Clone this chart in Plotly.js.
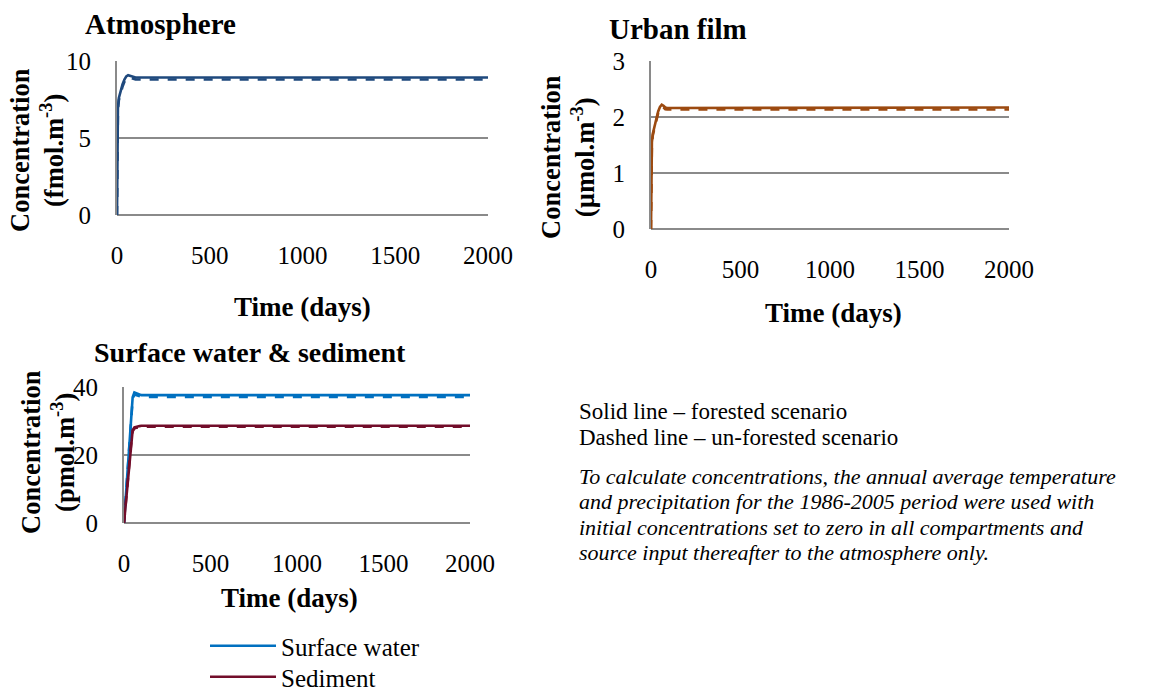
<!DOCTYPE html>
<html>
<head>
<meta charset="utf-8">
<script src="https://cdn.plot.ly/plotly-3.0.1.min.js"></script>
<style>html,body{margin:0;padding:0;background:#fff;}#chart{width:1170px;height:700px;}</style>
</head>
<body>
<div id="chart"></div>
<script>
// ---- data ----
const timeDays = [0, 2, 5, 10, 20, 30, 40, 50, 60, 70, 80, 90, 100, 120, 150, 200, 300, 500, 1000, 1500, 2000];

const atmForested   = [0, 6.2, 7.0, 7.6, 8.1, 8.5, 8.8, 9.0, 9.08, 9.05, 9.0, 8.95, 8.93, 8.93, 8.93, 8.93, 8.93, 8.93, 8.93, 8.93, 8.93];
const atmUnforested = [0, 6.0, 6.85, 7.45, 7.95, 8.35, 8.65, 8.85, 8.95, 8.9, 8.85, 8.8, 8.8, 8.8, 8.8, 8.8, 8.8, 8.8, 8.8, 8.8, 8.8];

const filmForested   = [0, 1.35, 1.55, 1.7, 1.85, 1.98, 2.1, 2.18, 2.22, 2.2, 2.17, 2.16, 2.16, 2.17, 2.17, 2.17, 2.17, 2.17, 2.17, 2.17, 2.17];
const filmUnforested = [0, 1.32, 1.52, 1.67, 1.82, 1.95, 2.07, 2.15, 2.19, 2.17, 2.14, 2.135, 2.135, 2.135, 2.135, 2.135, 2.135, 2.135, 2.135, 2.135, 2.135];

const waterForested   = [0, 1.6, 4, 8, 16, 24, 31, 37, 38.4, 38.2, 37.9, 37.7, 37.6, 37.6, 37.6, 37.6, 37.6, 37.6, 37.6, 37.6, 37.6];
const waterUnforested = [0, 1.5, 3.9, 7.8, 15.6, 23.5, 30.4, 36.4, 37.8, 37.6, 37.3, 37.2, 37.1, 37.1, 37.1, 37.1, 37.1, 37.1, 37.1, 37.1, 37.1];

const sedForested   = [0, 1.2, 3, 6, 12, 18, 23, 27.3, 28.1, 28.3, 28.4, 28.5, 28.6, 28.6, 28.6, 28.6, 28.6, 28.6, 28.6, 28.6, 28.6];
const sedUnforested = [0, 1.2, 2.9, 5.9, 11.8, 17.7, 22.7, 27.0, 27.8, 28.0, 28.1, 28.2, 28.3, 28.3, 28.3, 28.3, 28.3, 28.3, 28.3, 28.3, 28.3];

const xTicks = [0, 500, 1000, 1500, 2000];
const atmTicks = [0, 5, 10];
const filmTicks = [0, 1, 2, 3];
const waterTicks = [0, 20, 40];

const legendNames = ["Surface water", "Sediment"];
const panelTitles = ["Atmosphere", "Urban film", "Surface water &amp; sediment"];
const yTitles = ["Concentration<br>(fmol.m<sup>-3</sup>)", "Concentration<br>(µmol.m<sup>-3</sup>)", "Concentration<br>(pmol.m<sup>-3</sup>)"];
const xTitle = "Time (days)";
const noteLines = ["Solid line – forested scenario", "Dashed line – un-forested scenario"];
const italicLines = [
  "To calculate concentrations, the annual average temperature",
  "and precipitation for the 1986-2005 period were used with",
  "initial concentrations set to zero in all compartments and",
  "source input thereafter to the atmosphere only."
];

// ---- styling ----
const FONT = "Liberation Serif, Times New Roman, serif";
const W = 1170, H = 700;
const px = v => v / W;
const py = v => 1 - v / H;
const gridCol = "#8a8a8a";

const cAtm = "#1F497D", cFilm = "#9C4A10", cWater = "#0070C0", cSed = "#720D2A";

function pair(x, yS, yD, col, xa, ya, name, leg) {
  return [
    Object.assign({x: x, y: yS, type: "scatter", mode: "lines", xaxis: xa, yaxis: ya,
     line: {color: col, width: 2.6}, name: name || "", showlegend: !!leg, hoverinfo: "skip"}, leg ? {legend: leg} : {}),
    {x: x, y: yD, type: "scatter", mode: "lines", xaxis: xa, yaxis: ya,
     line: {color: col, width: 2.6, dash: "dash"}, showlegend: false, hoverinfo: "skip"}
  ];
}

const data = [].concat(
  pair(timeDays, atmForested, atmUnforested, cAtm, "x", "y"),
  pair(timeDays, filmForested, filmUnforested, cFilm, "x2", "y2"),
  pair(timeDays, waterForested, waterUnforested, cWater, "x3", "y3", legendNames[0], "legend"),
  pair(timeDays, sedForested, sedUnforested, cSed, "x3", "y3", legendNames[1], "legend2")
);

function xAxis(dom, anchor) {
  return {domain: dom, anchor: anchor, range: [0, 2000], tickvals: xTicks, showgrid: false,
    zeroline: false, showline: false, ticks: "outside", ticklen: 18, tickcolor: "rgba(0,0,0,0)",
    tickfont: {family: FONT, size: 25, color: "#000"}, fixedrange: true};
}
function yAxis(dom, anchor, rng, tv) {
  return {domain: dom, anchor: anchor, range: rng, tickvals: tv, showgrid: true, gridcolor: gridCol, gridwidth: 2,
    zeroline: true, zerolinecolor: gridCol, zerolinewidth: 2, showline: true, linecolor: gridCol, linewidth: 2,
    ticks: "outside", ticklen: 19, tickcolor: "rgba(0,0,0,0)",
    tickfont: {family: FONT, size: 25, color: "#000"}, fixedrange: true};
}

const ann = [];
function txt(text, x, y, size, opts) {
  ann.push(Object.assign({text: text, x: px(x), y: py(y), xref: "paper", yref: "paper",
    showarrow: false, xanchor: "center", yanchor: "middle",
    font: {family: FONT, size: size, color: "#000"}}, opts || {}));
}
// panel titles
txt("<b>" + panelTitles[0] + "</b>", 160, 24, 29);
txt("<b>" + panelTitles[1] + "</b>", 678, 29, 29);
txt("<b>" + panelTitles[2] + "</b>", 250, 352, 28);
// x titles
txt("<b>" + xTitle + "</b>", 302, 307, 27);
txt("<b>" + xTitle + "</b>", 833, 313, 27);
txt("<b>" + xTitle + "</b>", 289, 598, 27);
// y titles
txt("<b>" + yTitles[0] + "</b>", 37, 150, 26.5, {textangle: -90});
txt("<b>" + yTitles[1] + "</b>", 568, 157, 26.5, {textangle: -90});
txt("<b>" + yTitles[2] + "</b>", 48, 452, 26.5, {textangle: -90});
// notes
txt(noteLines[0], 577, 411, 23, {xanchor: "left"});
txt(noteLines[1], 577, 438, 23, {xanchor: "left"});
italicLines.forEach((l, i) => txt("<i>" + l + "</i>", 577, 476 + i * 25.5, 22, {xanchor: "left"}));

const legStyle = (y) => ({x: px(205), y: py(y), xanchor: "left", yanchor: "bottom", bgcolor: "rgba(0,0,0,0)",
    font: {family: FONT, size: 25, color: "#000"}, itemwidth: 66});

const layout = {
  width: W, height: H, margin: {l: 0, r: 0, t: 0, b: 0},
  paper_bgcolor: "#fff", plot_bgcolor: "#fff",
  font: {family: FONT, color: "#000"},
  xaxis: xAxis([px(117), px(488)], "y"),
  yaxis: yAxis([py(215), py(61)], "x", [0, 10], atmTicks),
  xaxis2: xAxis([px(651), px(1009)], "y2"),
  yaxis2: yAxis([py(229), py(61)], "x2", [0, 3], filmTicks),
  xaxis3: xAxis([px(124), px(470)], "y3"),
  yaxis3: yAxis([py(523), py(387)], "x3", [0, 40], waterTicks),
  showlegend: true,
  legend: legStyle(669),
  legend2: legStyle(700),
  annotations: ann
};

Plotly.newPlot("chart", data, layout, {staticPlot: true, displayModeBar: false});
</script>
</body>
</html>
